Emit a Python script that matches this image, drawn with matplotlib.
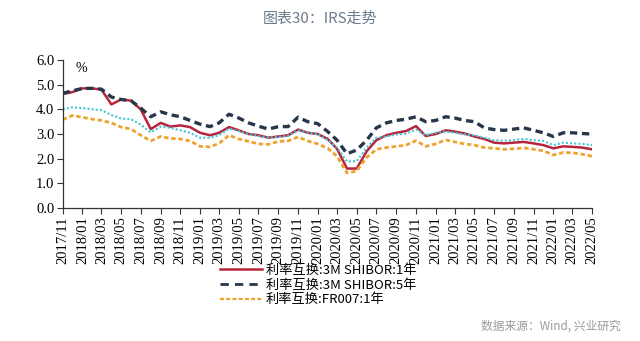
import numpy as np
import pandas as pd
import matplotlib
matplotlib.use("Agg")
import matplotlib.pyplot as plt
from matplotlib.lines import Line2D

plt.rcParams['font.family'] = ['Noto Sans CJK SC', 'DejaVu Sans']

# monthly readings, 2017/11 .. 2022/05
months = pd.date_range("2017-11-01", "2022-05-01", freq="MS")

shibor_1y = [4.62, 4.70, 4.85, 4.85, 4.80, 4.20, 4.40, 4.35, 4.00, 3.20,
             3.45, 3.30, 3.35, 3.28, 3.05, 2.95, 3.05, 3.28, 3.15, 3.00,
             2.95, 2.85, 2.90, 2.95, 3.18, 3.05, 3.00, 2.80, 2.40, 1.60,
             1.60, 2.30, 2.75, 2.95, 3.05, 3.12, 3.32, 2.92, 3.00, 3.15,
             3.10, 3.02, 2.90, 2.80, 2.65, 2.62, 2.65, 2.68, 2.62, 2.55,
             2.42, 2.50, 2.48, 2.45, 2.38]

shibor_5y = [4.65, 4.75, 4.85, 4.85, 4.82, 4.50, 4.40, 4.35, 4.05, 3.70,
             3.90, 3.78, 3.70, 3.55, 3.40, 3.30, 3.45, 3.80, 3.65, 3.45,
             3.32, 3.20, 3.30, 3.30, 3.68, 3.50, 3.42, 3.10, 2.75, 2.20,
             2.35, 2.75, 3.25, 3.45, 3.55, 3.60, 3.70, 3.50, 3.55, 3.70,
             3.65, 3.55, 3.50, 3.25, 3.18, 3.15, 3.20, 3.25, 3.15, 3.05,
             2.90, 3.05, 3.05, 3.02, 3.00]

fr007_1y = [3.58, 3.75, 3.68, 3.60, 3.55, 3.45, 3.28, 3.20, 2.95, 2.72,
            2.90, 2.82, 2.80, 2.72, 2.50, 2.48, 2.62, 2.95, 2.80, 2.70,
            2.60, 2.58, 2.70, 2.72, 2.88, 2.72, 2.60, 2.42, 2.10, 1.42,
            1.50, 2.05, 2.38, 2.45, 2.50, 2.55, 2.73, 2.50, 2.60, 2.76,
            2.68, 2.60, 2.55, 2.45, 2.42, 2.38, 2.40, 2.44, 2.38, 2.32,
            2.15, 2.25, 2.24, 2.18, 2.10]

fr007_5y = [4.00, 4.08, 4.05, 4.00, 3.97, 3.77, 3.63, 3.60, 3.38, 3.07,
            3.30, 3.25, 3.15, 3.05, 2.85, 2.85, 2.95, 3.22, 3.12, 3.00,
            2.92, 2.85, 2.88, 2.92, 3.15, 3.05, 3.00, 2.75, 2.45, 1.88,
            1.90, 2.45, 2.85, 2.90, 2.98, 3.02, 3.18, 2.95, 3.05, 3.10,
            3.05, 2.98, 2.95, 2.85, 2.75, 2.73, 2.76, 2.80, 2.75, 2.72,
            2.55, 2.65, 2.62, 2.60, 2.55]

labels = ["利率互换:3M SHIBOR:1年", "利率互换:3M SHIBOR:5年", "利率互换:FR007:1年"]
tick_dates = months[::2]
tick_labels = [d.strftime("%Y/%m") for d in tick_dates]

c_red = "#b8243c"
c_navy = "#27364a"
c_orange = "#f0a22e"
c_cyan = "#45c6d6"

fig = plt.figure(figsize=(6.4, 3.41), dpi=100)
ax = fig.add_axes([0.098, 0.39, 0.827, 0.434])

ax.plot(months, shibor_1y, color=c_red, lw=1.8)
ax.plot(months, shibor_5y, color=c_navy, lw=2.4, dashes=(2.2, 1.4))
ax.plot(months, fr007_1y, color=c_orange, lw=2.0, dashes=(1.6, 1.0))
ax.plot(months, fr007_5y, color=c_cyan, lw=1.5, dashes=(1.0, 1.0))

ax.set_ylim(0, 6)
ax.set_xlim(months[0], months[-1])
ax.set_yticks(np.arange(0, 6.1, 1.0))
ax.set_yticklabels([f"{v:.1f}" for v in np.arange(0, 6.1, 1.0)],
                   family="Liberation Serif", fontsize=10.5)
ax.set_xticks(tick_dates)
ax.set_xticklabels(tick_labels, rotation=90, family="Liberation Serif", fontsize=10.5)
ax.tick_params(direction="out", length=4, width=0.8, color="#333333", pad=2)

for s in ["top", "right"]:
    ax.spines[s].set_visible(False)
for s in ["left", "bottom"]:
    ax.spines[s].set_color("#333333")
    ax.spines[s].set_linewidth(0.9)

ax.text(0.025, 0.985, "%", transform=ax.transAxes, fontsize=10,
        family="Liberation Serif", va="top", ha="left")

handles = [Line2D([], [], color=c_red, lw=1.8),
           Line2D([], [], color=c_navy, lw=2.0, dashes=(3.0, 2.2)),
           Line2D([], [], color=c_orange, lw=1.6, dashes=(1.8, 1.0))]
fig.legend(handles, labels, loc="upper center", bbox_to_anchor=(0.497, 0.245),
           frameon=False, fontsize=9.5, handlelength=3.2, handletextpad=0.3,
           labelspacing=0.12, borderpad=0)

fig.text(0.5, 0.945, "图表30：IRS走势", ha="center", va="center",
         fontsize=10.8, color="#6b7a8c")
fig.text(0.97, 0.045, "数据来源：Wind, 兴业研究", ha="right", va="center",
         fontsize=8.5, color="#9a9a9a")

fig.savefig("out.png", dpi=100)
